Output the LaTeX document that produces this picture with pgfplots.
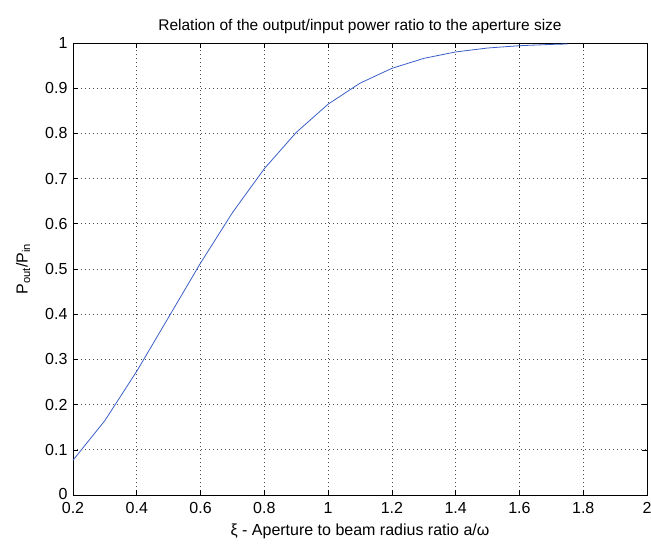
\documentclass[border=0pt]{standalone}
\usepackage{fontspec}
\setmainfont{Liberation Sans}
\usepackage{pgfplots}
\pgfplotsset{compat=1.18}
\definecolor{mblue}{RGB}{60,95,200}
\begin{document}
\fontsize{16}{19}\selectfont
\begin{tikzpicture}
\begin{axis}[
  name=ax, at={(0,0)}, anchor=south west,
  scale only axis, width=574pt, height=452pt,
  xmin=0.2, xmax=2, ymin=0, ymax=1,
  xtick={0.2,0.4,...,2.01}, ytick={0,0.1,...,1.01},
  xticklabels={0.2,0.4,0.6,0.8,1,1.2,1.4,1.6,1.8,2},
  yticklabels={\raisebox{3pt}{0},0.1,0.2,0.3,0.4,0.5,0.6,0.7,0.8,0.9,1},
  tick align=inside, tick pos=both,
  major tick length=5pt,
  tick style={black, line width=0.6pt},
  axis line style={black, line width=0.8pt},
  grid=major,
  major grid style={black!70, line width=0.7pt, dash pattern=on 1pt off 3pt},
  /pgf/number format/assume math mode=true,
  tick label style={font=\fontsize{16}{19}\selectfont},
  xticklabel style={yshift=-2pt},
  title={Relation of the output/input power ratio to the aperture size},
  title style={font=\fontsize{15.5}{18}\selectfont, yshift=-2pt},
  xlabel={ξ - Aperture to beam radius ratio a/ω},
  ylabel={P\textsubscript{out}/P\textsubscript{in}},
  label style={font=\fontsize{16}{19}\selectfont},
  xlabel style={yshift=1pt},
  ylabel style={yshift=4pt},
]
\addplot[mblue, line width=0.8pt] coordinates {
(0.2,0.0769) (0.3,0.1647) (0.4,0.2739) (0.5,0.3935) (0.6,0.5132)
(0.7,0.6247) (0.8,0.7220) (0.9,0.8021) (1.0,0.8647) (1.1,0.9111)
(1.2,0.9439) (1.3,0.9660) (1.4,0.9802) (1.5,0.9889) (1.6,0.9940)
(1.7,0.9969) (1.75,0.9978)
};
\end{axis}
\pgfresetboundingbox
\path[use as bounding box] (-73pt,-49pt) rectangle (578pt,495pt);
\end{tikzpicture}
\end{document}
